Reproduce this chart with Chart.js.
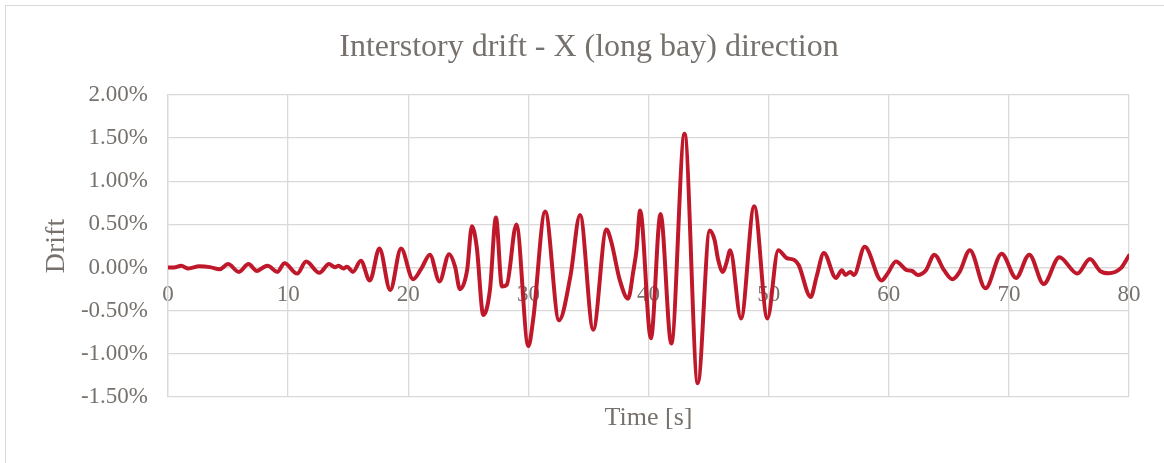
<!DOCTYPE html>
<html>
<head>
<meta charset="utf-8">
<script src="https://cdn.jsdelivr.net/npm/chart.js@4/dist/chart.umd.min.js"></script>
<style>
  html, body { margin: 0; padding: 0; background: #ffffff; overflow: hidden; }
  #wrap { position: relative; width: 1164px; height: 463px; }
  #frame { position: absolute; left: 5px; top: 5px; width: 1300px; height: 600px; border: 1px solid #d9d9d9; box-sizing: border-box; pointer-events: none; }
  canvas { position: absolute; left: 0; top: 0; }
</style>
</head>
<body>
<div id="wrap">
  <div id="frame"></div>
  <canvas id="c" width="1164" height="463"></canvas>
</div>
<script>
// ---- data (time in s, drift in %) ----
const chartTitle = 'Interstory drift - X (long bay) direction';
const xAxisTitle = 'Time [s]';
const yAxisTitle = 'Drift';
const xTicks = [0, 10, 20, 30, 40, 50, 60, 70, 80];
const yTicks = [-1.5, -1.0, -0.5, 0.0, 0.5, 1.0, 1.5, 2.0];

const times = [
  0, 0.5, 1.1, 1.7, 2.6, 3.5, 4.3, 5.0, 5.9, 6.7, 7.4, 7.9, 8.3, 9.1, 9.7,
  10.75, 11.5, 12.6, 13.4, 13.9, 14.2, 14.6, 14.9, 15.4, 16.05, 16.8, 17.6, 18.5, 19.4,
  20.4, 21.1, 21.8, 22.6, 23.4, 23.9, 24.3, 24.9, 25.3, 25.7, 26.25, 26.8, 27.3, 27.8, 28.2, 29.0,
  30.0, 30.4, 31.4, 32.55, 33.5, 34.3, 35.4, 36.5, 36.9, 37.6, 38.3, 38.75, 39.0, 39.3,
  40.2, 41.0, 41.9, 43.0, 44.1, 45.1, 45.5, 45.8, 46.2, 46.5, 46.8, 47.7, 48.8, 49.9,
  50.8, 51.5, 52.1, 52.5, 53.5, 54.0, 54.6, 55.6, 56.1, 56.4, 56.8, 57.1, 58.0, 59.4, 59.9,
  60.6, 61.5, 61.95, 62.4, 63.1, 63.8, 64.6, 65.3, 65.9, 66.75, 68.05, 69.4,
  70.6, 71.7, 72.9, 74.2, 75.7, 76.75, 77.6, 78.3, 79.3, 80.0
];
const drift = [
  0.0, 0.0, 0.02, -0.01, 0.015, 0.005, -0.02, 0.04, -0.05, 0.04, -0.04, 0.0, 0.02, -0.05, 0.05,
  -0.07, 0.07, -0.06, 0.04, 0.005, 0.02, -0.01, 0.01, -0.05, 0.08, -0.15, 0.22, -0.26, 0.22,
  -0.135, -0.01, 0.15, -0.16, 0.155, 0.01, -0.25, -0.03, 0.48, 0.24, -0.55, -0.26, 0.58, -0.22, -0.2, 0.50,
  -0.91, -0.6, 0.65, -0.61, -0.1, 0.61, -0.72, 0.44, 0.30, -0.14, -0.36, -0.03, 0.2, 0.66,
  -0.82, 0.62, -0.88, 1.55, -1.34, 0.43, 0.32, 0.09, -0.05, 0.06, 0.2, -0.59, 0.71, -0.59,
  0.2, 0.11, 0.09, 0.03, -0.34, -0.1, 0.17, -0.12, -0.03, -0.085, -0.05, -0.085, 0.24, -0.15, -0.07,
  0.07, -0.03, -0.04, -0.085, -0.03, 0.15, -0.03, -0.135, -0.05, 0.2, -0.24, 0.16,
  -0.12, 0.15, -0.19, 0.12, -0.07, 0.1, -0.04, -0.065, -0.01, 0.14
];

// ---- chart ----
const FONT = '"Liberation Serif", "Times New Roman", serif';
const TEXT = '#76716c';
const GRID = '#d9d9d9';

const points = times.map((t, i) => ({ x: t, y: drift[i] }));

new Chart(document.getElementById('c'), {
  type: 'line',
  data: {
    datasets: [{
      data: points,
      xAxisID: 'x',
      yAxisID: 'y',
      borderColor: '#c0182b',
      borderWidth: 4,
      pointRadius: 0,
      fill: false,
      cubicInterpolationMode: 'monotone',
      borderCapStyle: 'round',
      borderJoinStyle: 'round'
    }]
  },
  options: {
    responsive: false,
    animation: false,
    layout: { padding: { left: 14, right: 0, top: 0, bottom: 0 } },
    plugins: {
      legend: { display: false },
      tooltip: { enabled: false },
      title: {
        display: true,
        text: chartTitle,
        color: TEXT,
        font: { family: FONT, size: 32, weight: 'normal', lineHeight: 1.2 },
        padding: { top: 28, bottom: 28.6 }
      }
    },
    scales: {
      x: {
        type: 'linear',
        position: { y: 0 },
        min: xTicks[0],
        max: xTicks[xTicks.length - 1],
        afterBuildTicks: (s) => { s.ticks = xTicks.map(v => ({ value: v })); },
        ticks: {
          color: TEXT,
          font: { family: FONT, size: 23 },
          padding: 14,
          maxRotation: 0,
          autoSkip: false
        },
        grid: { color: GRID, lineWidth: 1.3, drawTicks: false },
        border: { display: true, color: GRID, width: 1.3 }
      },
      xt: {
        type: 'linear',
        position: 'bottom',
        min: 0,
        max: 80,
        ticks: { display: false },
        grid: { display: false, drawTicks: false },
        border: { display: false },
        title: {
          display: true,
          text: xAxisTitle,
          color: TEXT,
          font: { family: FONT, size: 26, lineHeight: 1.2 },
          padding: { top: 0, bottom: 29 }
        },
        afterFit: (s) => { s.height = 66; }
      },
      yr: {
        type: 'linear',
        position: 'right',
        min: 0,
        max: 1,
        ticks: { display: false },
        grid: { display: false, drawTicks: false },
        border: { display: false },
        afterFit: (s) => { s.width = 35; }
      },
      y: {
        type: 'linear',
        position: 'left',
        min: yTicks[0],
        max: yTicks[yTicks.length - 1],
        afterBuildTicks: (s) => { s.ticks = yTicks.map(v => ({ value: v })); },
        ticks: {
          color: TEXT,
          font: { family: FONT, size: 23 },
          padding: 20,
          callback: (v) => Number(v).toFixed(2) + '%'
        },
        grid: { color: GRID, lineWidth: 1.3, drawTicks: false },
        border: { display: true, color: GRID, width: 1.3 },
        title: {
          display: true,
          text: yAxisTitle,
          color: TEXT,
          font: { family: FONT, size: 28, lineHeight: 1.2 },
          padding: { top: 26, bottom: 0 }
        },
        afterFit: (s) => { s.width = 154; }
      }
    }
  }
});
</script>
</body>
</html>
